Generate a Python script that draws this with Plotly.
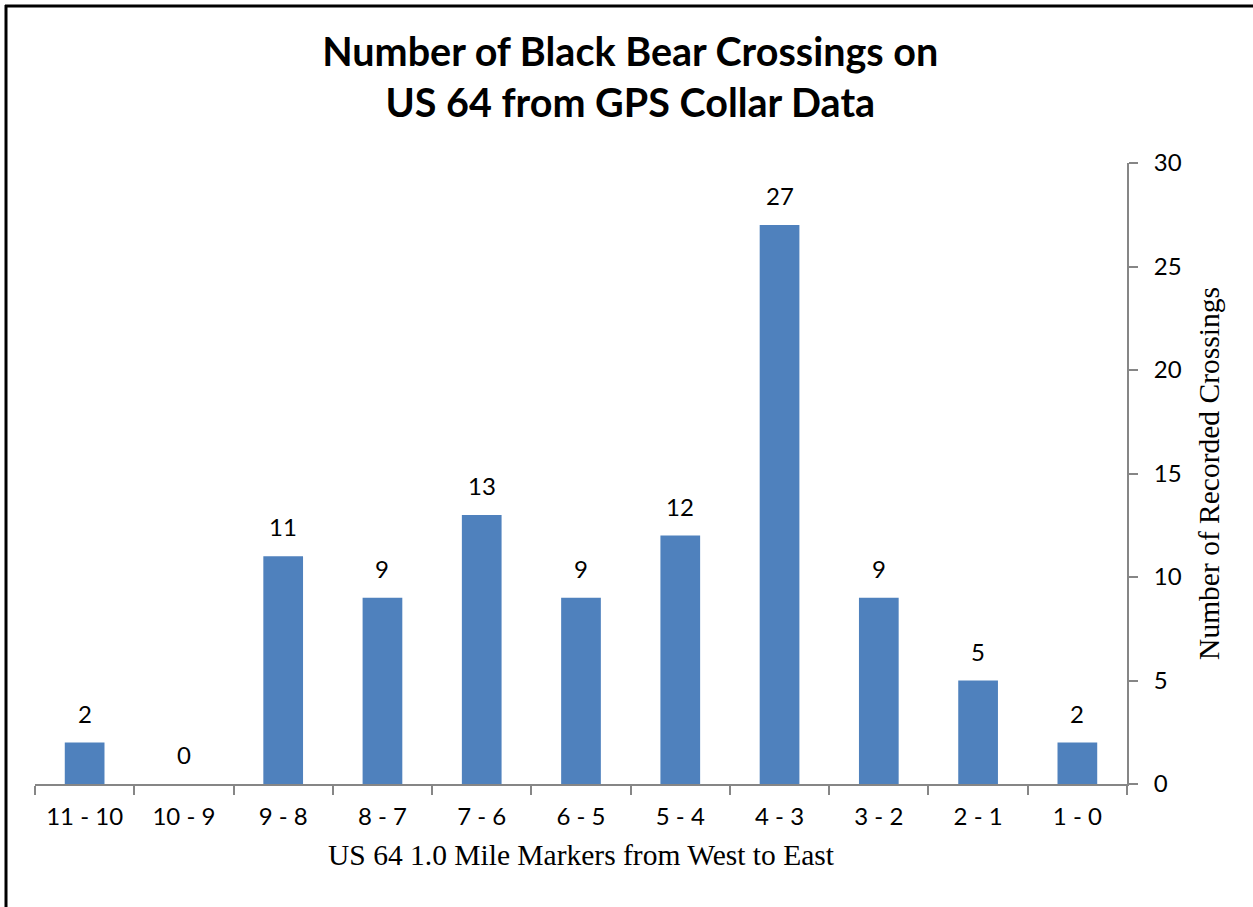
import plotly.graph_objects as go

# Crossings per 1.0-mile segment of US 64, west to east
segments = ["11 - 10", "10 - 9", "9 - 8", "8 - 7", "7 - 6", "6 - 5",
            "5 - 4", "4 - 3", "3 - 2", "2 - 1", "1 - 0"]
crossings = [2, 0, 11, 9, 13, 9, 12, 27, 9, 5, 2]
y_ticks = [0, 5, 10, 15, 20, 25, 30]

W, H = 1253, 907
L, R, T, B = 35, 126, 163, 123
pw, ph = W - L - R, H - T - B

sans = "Lato, 'Open Sans', sans-serif"
serif = "'Liberation Serif', 'Times New Roman', serif"
axis_grey = "#868686"

fig = go.Figure(
    go.Bar(
        x=segments,
        y=crossings,
        marker=dict(color="#4F81BD", line=dict(width=0)),
        width=0.4,
        hoverinfo="x+y",
    )
)

# value labels above each bar
for seg, val in zip(segments, crossings):
    fig.add_annotation(
        x=seg, y=val, text=str(val), showarrow=False,
        yanchor="bottom", yshift=13,
        font=dict(family=sans, size=24, color="black"),
    )

# frame lines along the left and top edges
fx = lambda px: (px - L) / pw
fy = lambda py: 1 - (py - T) / ph
fig.add_shape(type="line", xref="paper", yref="paper",
              x0=fx(6), x1=fx(6), y0=fy(5), y1=fy(H + 5),
              line=dict(color="black", width=3))
fig.add_shape(type="line", xref="paper", yref="paper",
              x0=fx(5), x1=fx(W + 5), y0=fy(6), y1=fy(6),
              line=dict(color="black", width=3))

fig.update_layout(
    width=W, height=H,
    margin=dict(l=L, r=R, t=T, b=B, pad=0),
    paper_bgcolor="white", plot_bgcolor="white",
    showlegend=False,
    title=dict(
        text="Number of Black Bear Crossings on<br>US 64 from GPS Collar Data",
        x=0.503, xanchor="center", y=1 - 66 / H, yanchor="middle",
        font=dict(family=sans, size=39.5, color="black", weight="bold"),
    ),
    xaxis=dict(
        type="category",
        tickson="boundaries",
        ticks="outside", ticklen=9, tickwidth=2, tickcolor=axis_grey,
        showline=True, linecolor=axis_grey, linewidth=2,
        showgrid=False, zeroline=False,
        tickfont=dict(family=sans, size=24, color="black"),
        ticklabelstandoff=10,
        title=dict(text="US 64 1.0 Mile Markers from West to East",
                   font=dict(family=serif, size=29.5, color="black"),
                   standoff=16),
    ),
    yaxis=dict(
        side="right",
        range=[0, 30],
        tickvals=y_ticks,
        ticks="outside", ticklen=9, tickwidth=2, tickcolor=axis_grey,
        showline=True, linecolor=axis_grey, linewidth=2,
        showgrid=False, zeroline=False,
        tickfont=dict(family=sans, size=24, color="black"),
        ticklabelstandoff=11,
        title=dict(text="Number of Recorded Crossings",
                   font=dict(family=serif, size=29.5, color="black"),
                   standoff=18),
    ),
)

fig.write_html("out.html")
